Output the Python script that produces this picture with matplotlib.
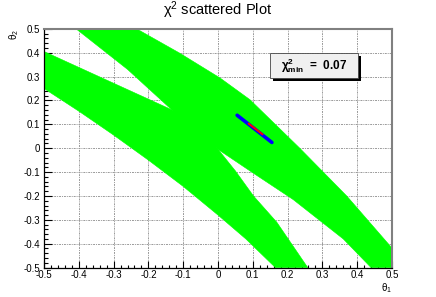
import matplotlib
matplotlib.use("Agg")
import matplotlib.pyplot as plt
from matplotlib.patches import Rectangle
from matplotlib.ticker import MultipleLocator

plt.rcParams['font.family'] = ['Liberation Sans', 'DejaVu Sans']
plt.rcParams['mathtext.fontset'] = 'custom'
plt.rcParams['mathtext.rm'] = 'Liberation Sans'
plt.rcParams['mathtext.it'] = 'Liberation Sans:italic'
plt.rcParams['mathtext.bf'] = 'Liberation Sans:bold'

# allowed region A: band entering from the left edge, bending down to the bottom
band_a_x = [-0.5, -0.5, -0.3, -0.133, -0.06, 0.001, 0.05, 0.102, 0.169, 0.258,
            0.165, 0.08, 0.0, -0.1, -0.2, -0.3, -0.4, -0.5]
band_a_y = [0.25, 0.405, 0.272, 0.161, 0.1, -0.006, -0.095, -0.2, -0.31, -0.5,
            -0.5, -0.38, -0.28, -0.16, -0.05, 0.055, 0.155, 0.25]

# allowed region B: band entering from the top, ending in the bottom-right corner
band_b_x = [-0.234, -0.11, 0.006, 0.092, 0.235, 0.37, 0.5, 0.5, 0.44,
            0.36, 0.216, 0.1, 0.001, -0.133, -0.26, -0.408]
band_b_y = [0.5, 0.398, 0.294, 0.203, 0.0, -0.2, -0.418, -0.5, -0.5,
            -0.38, -0.215, -0.103, -0.006, 0.161, 0.33, 0.5]

# best-fit region (inner in red, outer in blue)
blue_x = [0.055, 0.155]
blue_y = [0.138, 0.024]
red_x = [0.088, 0.128]
red_y = [0.103, 0.058]

chi2_min = 0.07

fig = plt.figure(figsize=(4.36, 2.97), dpi=100)
ax = fig.add_axes([0.101, 0.099, 0.798, 0.804])

ax.fill(band_a_x, band_a_y, facecolor='#00ff00', edgecolor='#00ff00', lw=0.4, zorder=2)
ax.fill(band_b_x, band_b_y, facecolor='#00ff00', edgecolor='#00ff00', lw=0.4, zorder=2)
ax.plot(blue_x, blue_y, color='#0000ff', lw=2.6, solid_capstyle='round', zorder=3)
ax.plot(red_x, red_y, color='#ff0000', lw=1.4, solid_capstyle='round', zorder=4)

ax.set_xlim(-0.5, 0.5)
ax.set_ylim(-0.5, 0.5)
ax.xaxis.set_major_locator(MultipleLocator(0.1))
ax.yaxis.set_major_locator(MultipleLocator(0.1))
ax.xaxis.set_minor_locator(MultipleLocator(0.02))
ax.yaxis.set_minor_locator(MultipleLocator(0.02))
fmt = plt.FuncFormatter(lambda v, p: f"{v:.1f}".rstrip('0').rstrip('.') if abs(v) > 1e-9 else "0")
ax.xaxis.set_major_formatter(fmt)
ax.yaxis.set_major_formatter(fmt)
ax.tick_params(axis='x', which='major', direction='in', length=5, width=0.8, labelsize=7, pad=2)
ax.tick_params(axis='x', which='minor', direction='in', length=2.5, width=0.8)
ax.tick_params(axis='y', which='major', direction='in', length=6, width=0.8, labelsize=7, pad=3)
ax.tick_params(axis='y', which='minor', direction='in', length=3, width=0.8)
ax.grid(True, which='major', color='#999999', lw=0.7, linestyle=(0, (2, 1, 1, 1)), zorder=1)
ax.set_axisbelow(True)

for s in ['top', 'right']:
    ax.spines[s].set_color('#808080')
    ax.spines[s].set_linewidth(1.5)
for s in ['left', 'bottom']:
    ax.spines[s].set_color('black')
    ax.spines[s].set_linewidth(0.9)

ax.text(1.0, -0.055, r"$\mathrm{θ}_{1}$", transform=ax.transAxes, ha='right', va='top', fontsize=7)
ax.text(-0.065, 1.0, r"$\mathrm{θ}_{2}$", transform=ax.transAxes, ha='right', va='top', fontsize=7, rotation=90)

fig.text(0.5, 0.965, r"$\mathrm{χ}^{2}$ scattered Plot", ha='center', va='center', fontsize=10.5)

# chi2 min box with ROOT style shadow
bx0, by0, bw, bh = 0.649, 0.795, 0.253, 0.105
ax.add_patch(Rectangle((bx0 + 0.008, by0 - 0.012), bw, bh, transform=ax.transAxes,
                       facecolor='black', edgecolor='none', zorder=6))
ax.add_patch(Rectangle((bx0, by0), bw, bh, transform=ax.transAxes,
                       facecolor='#f0f0f0', edgecolor='#444444', lw=0.6, zorder=7))
ax.text(bx0 + bw / 2, by0 + bh / 2, r"$\mathbf{χ^{2}_{min}}$  =  " + f"{chi2_min:.2f}",
        transform=ax.transAxes, ha='center', va='center', fontsize=8.5,
        fontweight='bold', zorder=8)

fig.savefig('out.png', dpi=100)
